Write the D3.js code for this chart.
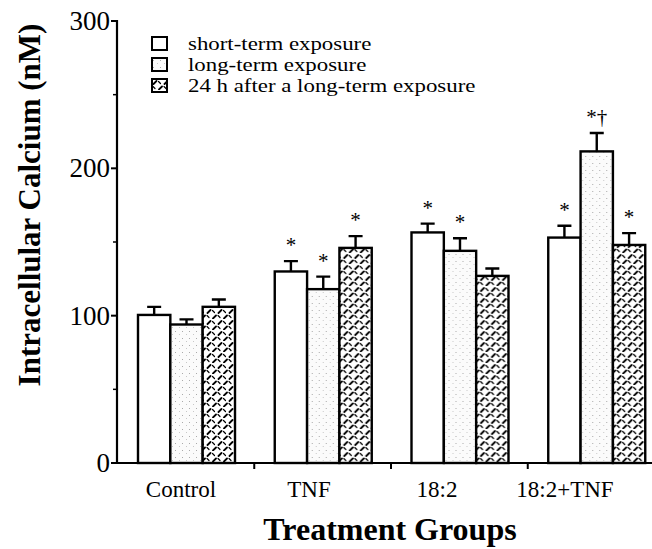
<!DOCTYPE html>
<html>
<head>
<meta charset="utf-8">
<script src="https://cdn.jsdelivr.net/npm/d3@7"></script>
<style>
  body { margin: 0; background: #fff; }
  svg { display: block; }
  text { font-family: "Liberation Serif", "Times New Roman", serif; fill: #000; }
</style>
</head>
<body>
<svg id="chart" width="652" height="549"></svg>
<script>
const groups = ['Control', 'TNF', '18:2', '18:2+TNF']
const seriesNames = ['short-term exposure', 'long-term exposure', '24 h after a long-term exposure']
const shortTerm = [100.5, 130, 156.5, 153]
const shortTermErr = [5.5, 7, 6, 8]
const longTerm = [94, 118, 144, 211.5]
const longTermErr = [3.5, 8.5, 8.5, 12.5]
const after24h = [106, 146, 127, 148]
const after24hErr = [5, 8, 5, 8]
const marks = [
  ['', '', ''],
  ['*', '*', '*'],
  ['*', '*', ''],
  ['*', '*†', '*']
]
const yTicks = [0, 100, 200, 300]
const yMinorTicks = [50, 150, 250]

const svg = d3.select('#chart')
const defs = svg.append('defs')

// stippled light fill for long-term exposure
const stip = defs.append('pattern').attr('id', 'stipple')
  .attr('width', 7).attr('height', 7).attr('patternUnits', 'userSpaceOnUse')
stip.append('rect').attr('width', 7).attr('height', 7).attr('fill', '#fbfbfb')
stip.append('rect').attr('x', 1).attr('y', 2).attr('width', 1).attr('height', 1).attr('fill', '#aaa')
stip.append('rect').attr('x', 5).attr('y', 5).attr('width', 1).attr('height', 1).attr('fill', '#c8c8c8')

// dashed zigzag hatch for 24 h after
const hatch = defs.append('pattern').attr('id', 'hatch')
  .attr('width', 11).attr('height', 11).attr('patternUnits', 'userSpaceOnUse')
hatch.append('rect').attr('width', 11).attr('height', 11).attr('fill', '#fff')
hatch.append('path').attr('d', 'M1.5,5 L4.5,2 M7,10.5 L10,7.5')
  .attr('stroke', '#000').attr('stroke-width', 1.8).attr('stroke-linecap', 'round')
hatch.append('path').attr('d', 'M6.5,2.5 L8.5,4.5 M1,7.5 L3,9.5')
  .attr('stroke', '#000').attr('stroke-width', 1.2).attr('stroke-linecap', 'round')

const fills = ['#fff', 'url(#stipple)', 'url(#hatch)']

const y = d3.scaleLinear().domain([0, 300]).range([463, 21])
const x = d3.scaleBand().domain(groups).range([118, 665]).paddingInner(0)
const x1 = d3.scaleBand().domain(d3.range(3)).range([20, 117])
const labelX = d3.scalePoint().domain(groups).range([181, 565])

const table = groups.map((g, i) => ({
  group: g,
  bars: [
    { v: shortTerm[i], e: shortTermErr[i], m: marks[i][0] },
    { v: longTerm[i], e: longTermErr[i], m: marks[i][1] },
    { v: after24h[i], e: after24hErr[i], m: marks[i][2] }
  ]
}))

const gGroup = svg.selectAll('g.grp').data(table).join('g')
  .attr('class', 'grp')
  .attr('transform', d => `translate(${x(d.group)},0)`)

const bar = gGroup.selectAll('g.bar').data(d => d.bars).join('g').attr('class', 'bar')

bar.append('rect')
  .attr('x', (d, j) => x1(j))
  .attr('y', d => y(d.v))
  .attr('width', x1.bandwidth())
  .attr('height', d => y(0) - y(d.v))
  .attr('fill', (d, j) => fills[j])
  .attr('stroke', '#000').attr('stroke-width', 2.4)

// error bars
bar.append('path')
  .attr('d', (d, j) => {
    const cx = x1(j) + x1.bandwidth() / 2
    return `M${cx},${y(d.v)} V${y(d.v + d.e)} M${cx - 7},${y(d.v + d.e)} H${cx + 7}`
  })
  .attr('stroke', '#000').attr('stroke-width', 2.4).attr('fill', 'none')

bar.append('text')
  .attr('x', (d, j) => x1(j) + x1.bandwidth() / 2)
  .attr('y', d => y(d.v + d.e) - 9)
  .attr('text-anchor', 'middle')
  .attr('font-size', 21)
  .text(d => d.m)

// y axis
const yAxis = svg.append('g')
yAxis.append('line').attr('x1', 117).attr('x2', 117).attr('y1', y(300) - 1).attr('y2', y(0))
  .attr('stroke', '#000').attr('stroke-width', 2.2)
yAxis.selectAll('line.maj').data(yTicks).join('line').attr('class', 'maj')
  .attr('x1', 111).attr('x2', 117).attr('y1', d => y(d)).attr('y2', d => y(d))
  .attr('stroke', '#000').attr('stroke-width', 2)
yAxis.selectAll('line.min').data(yMinorTicks).join('line').attr('class', 'min')
  .attr('x1', 113).attr('x2', 117).attr('y1', d => y(d)).attr('y2', d => y(d))
  .attr('stroke', '#000').attr('stroke-width', 1.5)
yAxis.selectAll('text').data(yTicks).join('text')
  .attr('x', 110).attr('y', d => y(d) + 9)
  .attr('text-anchor', 'end').attr('font-size', 27)
  .text(d => d)

// x axis
const xAxis = svg.append('g')
xAxis.append('line').attr('x1', 116).attr('x2', 652).attr('y1', y(0)).attr('y2', y(0))
  .attr('stroke', '#000').attr('stroke-width', 2.2)
xAxis.selectAll('line.tk').data(groups.slice(1)).join('line').attr('class', 'tk')
  .attr('x1', d => x(d) - 0.5).attr('x2', d => x(d) - 0.5)
  .attr('y1', y(0)).attr('y2', y(0) + 6)
  .attr('stroke', '#000').attr('stroke-width', 2)
xAxis.selectAll('text').data(groups).join('text')
  .attr('x', d => labelX(d)).attr('y', 497)
  .attr('text-anchor', 'middle').attr('font-size', 23)
  .text(d => d)

svg.append('text')
  .attr('x', 390).attr('y', 540)
  .attr('text-anchor', 'middle').attr('font-size', 32).attr('font-weight', 'bold')
  .text('Treatment Groups')

svg.append('text')
  .attr('transform', 'translate(40,205) rotate(-90)')
  .attr('text-anchor', 'middle').attr('font-size', 31).attr('font-weight', 'bold')
  .text('Intracellular Calcium (nM)')

// legend
const legend = svg.append('g').selectAll('g').data(seriesNames).join('g')
  .attr('transform', (d, i) => `translate(152,${[37, 58, 79][i]})`)
legend.append('rect').attr('width', 15).attr('height', 13)
  .attr('fill', (d, i) => fills[i]).attr('stroke', '#000').attr('stroke-width', 2)
legend.append('text')
  .attr('transform', 'translate(36,13) scale(1.27,1)')
  .attr('font-size', 18)
  .text(d => d)
</script>
</body>
</html>
